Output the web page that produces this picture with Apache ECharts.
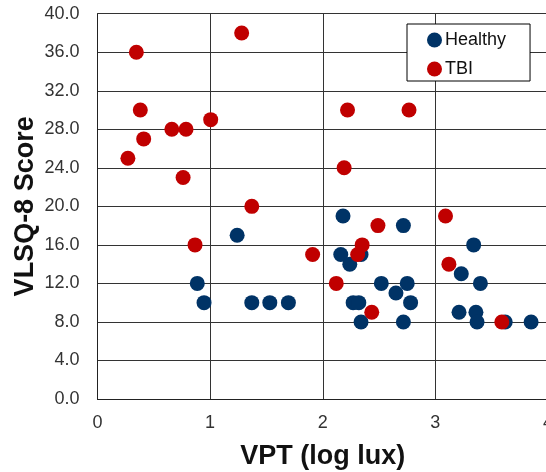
<!DOCTYPE html>
<html>
<head>
<meta charset="utf-8">
<script src="https://cdn.jsdelivr.net/npm/echarts@6/dist/echarts.min.js"></script>
<style>
html,body{margin:0;padding:0;background:#fff;}
#chart{width:546px;height:472px;}
</style>
</head>
<body>
<div id="chart"></div>
<script>
var healthyX = [1.24, 0.886, 0.946, 1.37, 1.53, 1.695, 2.18, 2.716, 3.34, 2.16, 2.34, 2.24, 3.23, 3.40, 2.52, 2.75, 2.65, 2.78, 2.27, 2.32, 3.21, 3.36, 2.34, 2.716, 3.37, 3.62, 3.85];
var healthyY = [17, 12, 10, 10, 10, 10, 19, 18, 16, 15, 15, 14, 13, 12, 12, 12, 11, 10, 10, 10, 9, 9, 8, 8, 8, 8, 8];
var tbiX = [1.28, 0.345, 0.38, 1.005, 0.66, 0.786, 0.41, 0.27, 0.76, 1.37, 0.866, 2.22, 2.766, 2.19, 2.49, 3.09, 2.35, 1.91, 2.31, 3.12, 2.12, 2.435, 3.59];
var tbiY = [38, 36, 30, 29, 28, 28, 27, 25, 23, 20, 16, 30, 30, 24, 18, 19, 16, 15, 15, 14, 12, 9, 8];
var seriesNames = ['Healthy', 'TBI'];
var xTitle = 'VPT (log lux)';
var yTitle = 'VLSQ-8 Score';

function zip(xs, ys) { return xs.map(function (x, i) { return [x, ys[i]]; }); }

var font = 'Liberation Sans, Arial, sans-serif';
var chart = echarts.init(document.getElementById('chart'), null, {renderer: 'canvas'});
chart.setOption({
  animation: false,
  backgroundColor: '#ffffff',
  textStyle: {fontFamily: font},
  grid: {left: 97.5, width: 450.5, top: 13.7, height: 385.3, containLabel: false, outerBoundsMode: 'none'},
  legend: {
    orient: 'vertical',
    left: 407, top: 24,
    padding: [7, 24, 3, 20],
    itemGap: 11,
    itemWidth: 15, itemHeight: 15,
    icon: 'circle',
    borderColor: '#000', borderWidth: 1,
    backgroundColor: '#fff',
    textStyle: {fontSize: 18, color: '#111', fontFamily: font, padding: [0, 0, 0, -2]},
    data: seriesNames
  },
  xAxis: {
    type: 'value', min: 0, max: 4, interval: 1,
    name: xTitle, nameLocation: 'middle', nameGap: 44, nameMoveOverlap: false,
    nameTextStyle: {fontSize: 27, fontWeight: 'bold', color: '#111', fontFamily: font},
    axisLine: {show: true, lineStyle: {color: '#222', width: 1}},
    axisTick: {show: false},
    axisLabel: {fontSize: 18, color: '#333', margin: 15, fontFamily: font},
    splitLine: {show: true, lineStyle: {color: '#333', width: 1}}
  },
  yAxis: {
    type: 'value', min: 0, max: 40, interval: 4,
    name: yTitle, nameLocation: 'middle', nameGap: 58, nameMoveOverlap: false,
    nameTextStyle: {fontSize: 27, fontWeight: 'bold', color: '#111', fontFamily: font},
    axisLine: {show: true, lineStyle: {color: '#222', width: 1}},
    axisTick: {show: false},
    axisLabel: {fontSize: 18, color: '#333', margin: 18, fontFamily: font,
      formatter: function (v) { return v.toFixed(1); }},
    splitLine: {show: true, lineStyle: {color: '#333', width: 1}}
  },
  series: [
    {name: seriesNames[0], type: 'scatter', symbol: 'circle', symbolSize: 15,
     itemStyle: {color: '#003366', opacity: 1}, data: zip(healthyX, healthyY)},
    {name: seriesNames[1], type: 'scatter', symbol: 'circle', symbolSize: 15,
     itemStyle: {color: '#C00000', opacity: 1}, data: zip(tbiX, tbiY)}
  ]
});
</script>
</body>
</html>
